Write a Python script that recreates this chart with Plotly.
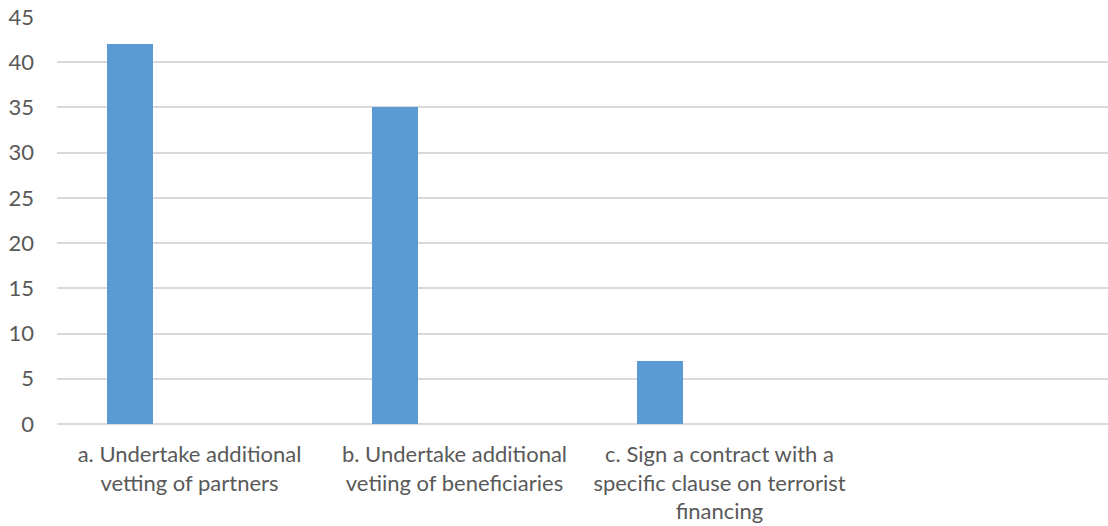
import plotly.graph_objects as go

# Survey responses per measure
categories = [
    "a. Undertake additional<br>vetting of partners",
    "b. Undertake additional<br>vetiing of beneficiaries",
    "c. Sign a contract with a<br>specific clause on terrorist<br>financing",
    "",
]
values = [42, 35, 7]
y_ticks = [0, 5, 10, 15, 20, 25, 30, 35, 40, 45]

positions = list(range(len(categories)))

fig = go.Figure()
fig.add_trace(go.Bar(
    x=positions[:len(values)],
    y=values,
    width=0.173,
    offset=-0.31,
    marker=dict(color="#5B9BD5", line=dict(width=0)),
    showlegend=False,
))

font_family = "Lato, 'Open Sans', sans-serif"
fig.update_layout(
    width=1108,
    height=526,
    margin=dict(l=57, r=0, t=17, b=102),
    paper_bgcolor="white",
    plot_bgcolor="white",
    font=dict(family=font_family, size=22, color="#595959"),
    bargap=0,
    xaxis=dict(
        range=[-0.5, len(categories) - 0.534],
        tickvals=positions,
        ticktext=categories,
        tickangle=0,
        showgrid=False,
        showline=False,
        zeroline=False,
        ticks="",
        ticklabelstandoff=15,
        tickfont=dict(size=22, color="#595959"),
    ),
    yaxis=dict(
        range=[0, 45],
        tickvals=y_ticks,
        showgrid=True,
        gridcolor="#D9D9D9",
        gridwidth=1.5,
        zeroline=True,
        zerolinecolor="#D9D9D9",
        zerolinewidth=1.5,
        showline=False,
        ticks="",
        ticklabelstandoff=22,
        tickfont=dict(size=22, color="#595959"),
    ),
)

fig.write_html("out.html")
